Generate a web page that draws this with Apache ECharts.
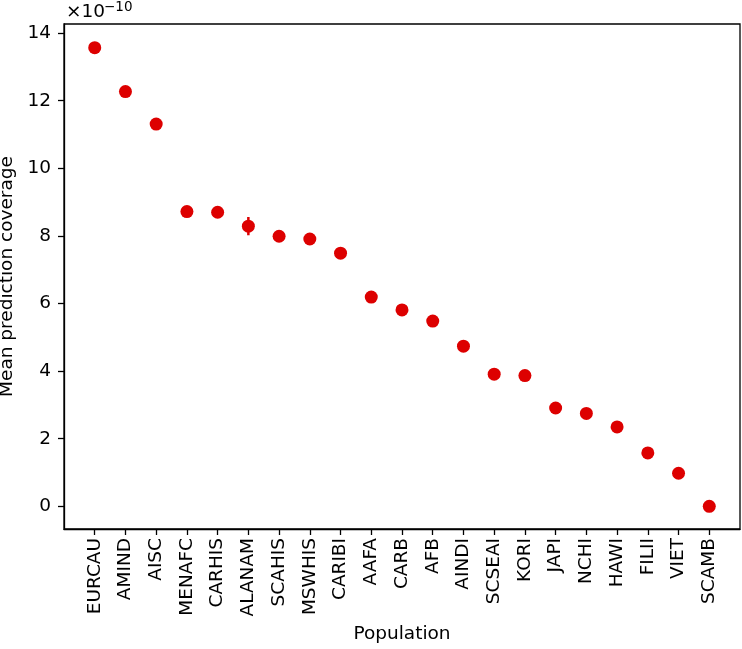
<!DOCTYPE html>
<html>
<head>
<meta charset="utf-8">
<script src="https://cdn.jsdelivr.net/npm/echarts@6/dist/echarts.min.js"></script>
<style>html,body{margin:0;padding:0;background:#fff}#c{width:742px;height:649px}</style>
</head>
<body>
<div id="c"></div>
<script>
const categories = ['EURCAU','AMIND','AISC','MENAFC','CARHIS','ALANAM','SCAHIS','MSWHIS','CARIBI','AAFA','CARB','AFB','AINDI','SCSEAI','KORI','JAPI','NCHI','HAWI','FILII','VIET','SCAMB'];
const meanValues = [13.57, 12.27, 11.31, 8.72, 8.70, 8.29, 7.99, 7.91, 7.49, 6.19, 5.81, 5.48, 4.74, 3.91, 3.87, 2.91, 2.75, 2.35, 1.58, 0.98, 0.0];
const errValues = [0.05, 0.05, 0.05, 0.05, 0.05, 0.27, 0.05, 0.05, 0.05, 0.05, 0.05, 0.05, 0.05, 0.05, 0.05, 0.05, 0.05, 0.05, 0.05, 0.05, 0.0];
const yTicks = [0, 2, 4, 6, 8, 10, 12, 14];
const xTicks = categories.map((c, i) => i);

const FONT = 'DejaVu Sans';
const RED = '#dd0000';
const FS = 18.5;
const n = categories.length;

const chart = echarts.init(document.getElementById('c'), null, {renderer: 'canvas'});
const pts = meanValues.map((v, i) => [i, v]);
const errData = meanValues.map((v, i) => [i, v - errValues[i], v + errValues[i]]);

chart.setOption({
  animation: false,
  backgroundColor: '#fff',
  textStyle: {fontFamily: FONT},
  grid: {left: 64, right: 2, top: 24, bottom: 120, outerBoundsMode: 'none', containLabel: false, show: true, borderColor: '#000', borderWidth: 1.3, backgroundColor: 'transparent'},
  xAxis: {
    type: 'value',
    min: -1,
    max: n,
    splitLine: {show: false},
    axisLine: {show: true, onZero: false, lineStyle: {color: '#000', width: 1.3}},
    axisTick: {show: true, customValues: xTicks, length: 6, lineStyle: {color: '#000', width: 1.3}},
    axisLabel: {
      customValues: xTicks,
      rotate: 90,
      margin: 9,
      fontSize: FS,
      color: '#000',
      fontFamily: FONT,
      formatter: v => categories[Math.round(v)]
    },
    name: 'Population',
    nameLocation: 'middle',
    nameGap: 93,
    nameTextStyle: {fontSize: FS, color: '#000', fontFamily: FONT}
  },
  yAxis: {
    type: 'value',
    min: -0.67,
    max: 14.27,
    splitLine: {show: false},
    axisLine: {show: true, onZero: false, lineStyle: {color: '#000', width: 1.3}},
    axisTick: {show: true, customValues: yTicks, length: 6, lineStyle: {color: '#000', width: 1.3}},
    axisLabel: {customValues: yTicks, margin: 13, fontSize: FS, color: '#000', fontFamily: FONT},
    name: 'Mean prediction coverage',
    nameLocation: 'middle',
    nameGap: 43,
    nameRotate: 90,
    nameTextStyle: {fontSize: FS, color: '#000', fontFamily: FONT}
  },
  graphic: [
    {type: 'text', left: 66, top: 3, style: {text: '×10', fontSize: FS, fontFamily: FONT, fill: '#000'}},
    {type: 'text', left: 104, top: 0, style: {text: '−10', fontSize: 13.5, fontFamily: FONT, fill: '#000'}}
  ],
  series: [
    {
      type: 'custom',
      data: errData,
      z: 3,
      renderItem: function (params, api) {
        const x = api.value(0);
        const lo = api.coord([x, api.value(1)]);
        const hi = api.coord([x, api.value(2)]);
        return {type: 'line', shape: {x1: lo[0], y1: lo[1], x2: hi[0], y2: hi[1]}, style: {stroke: RED, lineWidth: 2.5}};
      }
    },
    {
      type: 'scatter',
      data: pts,
      symbol: 'circle',
      symbolSize: 13,
      itemStyle: {color: RED, opacity: 1},
      z: 4
    }
  ]
});
</script>
</body>
</html>
